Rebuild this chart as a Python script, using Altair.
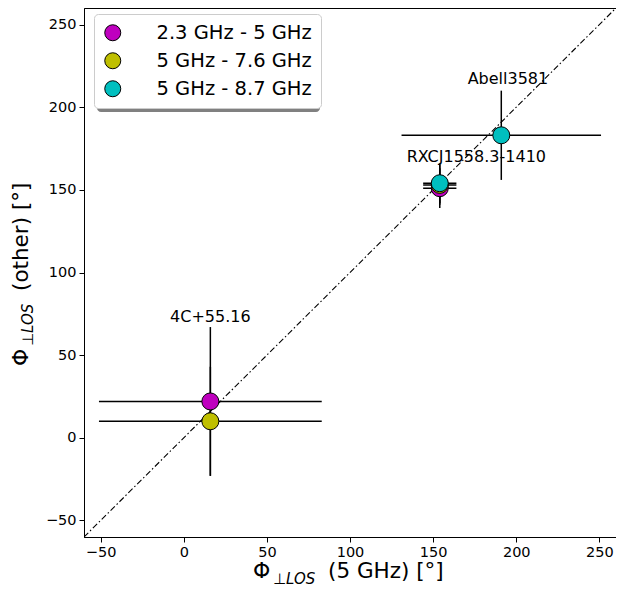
import altair as alt
import pandas as pd

# ---- data ----
bands = ["2.3 GHz - 5 GHz", "5 GHz - 7.6 GHz", "5 GHz - 8.7 GHz"]
band_colors = ["#bf00bf", "#bfbf00", "#00bfbf"]

pt_source = ["4C+55.16", "RXCJ1558.3-1410", "4C+55.16", "RXCJ1558.3-1410", "RXCJ1558.3-1410", "Abell3581"]
pt_band = [bands[0], bands[0], bands[1], bands[1], bands[2], bands[2]]
pt_x = [16, 154, 16, 154, 154, 191]
pt_xerr = [67, 10, 67, 10, 10, 60]
pt_y = [22, 151, 10, 153, 154, 183]
pt_yerr = [45, 12, 33, 12, 12, 27]

label_text = ["4C+55.16", "RXCJ1558.3-1410", "Abell3581"]
label_x = [16, 176, 195]
label_y = [73, 170, 217]

diag_vals = [-60, 260]
ticks = [-50, 0, 50, 100, 150, 200, 250]

W, H = 532, 529
FONT = "DejaVu Sans"

df = pd.DataFrame({"source": pt_source, "band": pt_band, "x": pt_x, "xerr": pt_xerr,
                   "y": pt_y, "yerr": pt_yerr})
df["xlo"] = df["x"] - df["xerr"]
df["xhi"] = df["x"] + df["xerr"]
df["ylo"] = df["y"] - df["yerr"]
df["yhi"] = df["y"] + df["yerr"]

lab = pd.DataFrame({"text": label_text, "x": label_x, "y": label_y})
diag = pd.DataFrame({"x": diag_vals, "y": diag_vals})

xscale = alt.Scale(domain=[-60, 260], nice=False, zero=False)
yscale = alt.Scale(domain=[-60, 260], nice=False, zero=False)
axis_common = dict(values=ticks, title=None, grid=False, labelFontSize=14.5, labelFont=FONT,
                   labelColor="black", tickColor="black", tickSize=5, tickWidth=1,
                   domainColor="black", domainWidth=1, labelFlush=False, labelPadding=3)
X = alt.X("x:Q", scale=xscale, axis=alt.Axis(**axis_common))
Y = alt.Y("y:Q", scale=yscale, axis=alt.Axis(**axis_common))

diag_line = alt.Chart(diag).mark_line(color="black", strokeWidth=1.1, strokeDash=[6, 2.5, 1.5, 2.5],
                                      clip=True).encode(x=X, y=Y)

hbars = alt.Chart(df).mark_rule(color="black", strokeWidth=1.5, clip=True).encode(
    x=alt.X("xlo:Q", scale=xscale), x2="xhi:Q", y=alt.Y("y:Q", scale=yscale))
vbars = alt.Chart(df).mark_rule(color="black", strokeWidth=1.5, clip=True).encode(
    x=alt.X("x:Q", scale=xscale), y=alt.Y("ylo:Q", scale=yscale), y2="yhi:Q")

legend = alt.Legend(orient="none", legendX=10, legendY=6, title=None, padding=9,
                    labelFontSize=19.5, labelFont=FONT, labelColor="black", labelOffset=34,
                    rowPadding=7, symbolSize=256, symbolStrokeColor="black",
                    symbolStrokeWidth=1, symbolType="circle", symbolOpacity=1,
                    fillColor="white", strokeColor="#cccccc", cornerRadius=4)

points = alt.Chart(df).mark_circle(size=289, stroke="black", strokeWidth=1, opacity=1).encode(
    x=X, y=Y,
    color=alt.Color("band:N", scale=alt.Scale(domain=bands, range=band_colors), legend=legend))

labels = alt.Chart(lab).mark_text(font=FONT, fontSize=16, color="black", align="center",
                                  baseline="middle").encode(x=X, y=Y, text="text:N")

# legend shadow
shadow = alt.Chart(pd.DataFrame({"a": [0]})).mark_rect(color="#808080", cornerRadius=4).encode(
    x=alt.value(13), x2=alt.value(236), y=alt.value(9), y2=alt.value(104))

# axis titles with subscript
one = pd.DataFrame({"a": [0]})
def txt(s, x, y, size, style="normal", angle=0):
    return alt.Chart(one).mark_text(text=s, font=FONT, fontSize=size, fontStyle=style,
                                    color="black", align="left", baseline="alphabetic",
                                    angle=angle).encode(x=alt.value(x), y=alt.value(y))

xt = [txt("Φ", 169, 570, 22), txt("⊥LOS", 189, 576, 15, "italic"), txt("(5 GHz) [°]", 244, 570, 21.5)]
yt = [txt("Φ", -56, 358, 22, angle=270), txt("⊥LOS", -51, 338, 15, "italic", angle=270),
      txt("(other) [°]", -56, 283, 21.5, angle=270)]

chart = alt.layer(diag_line, hbars, vbars, points, labels, shadow, *xt, *yt).properties(
    width=W, height=H,
    autosize=alt.AutoSizeParams(type="none"),
    padding={"left": 76, "top": 0, "right": 0, "bottom": 51},
).configure_view(stroke="black", strokeWidth=1)

chart.save("out.html", embed_options={"renderer": "svg", "actions": False})
